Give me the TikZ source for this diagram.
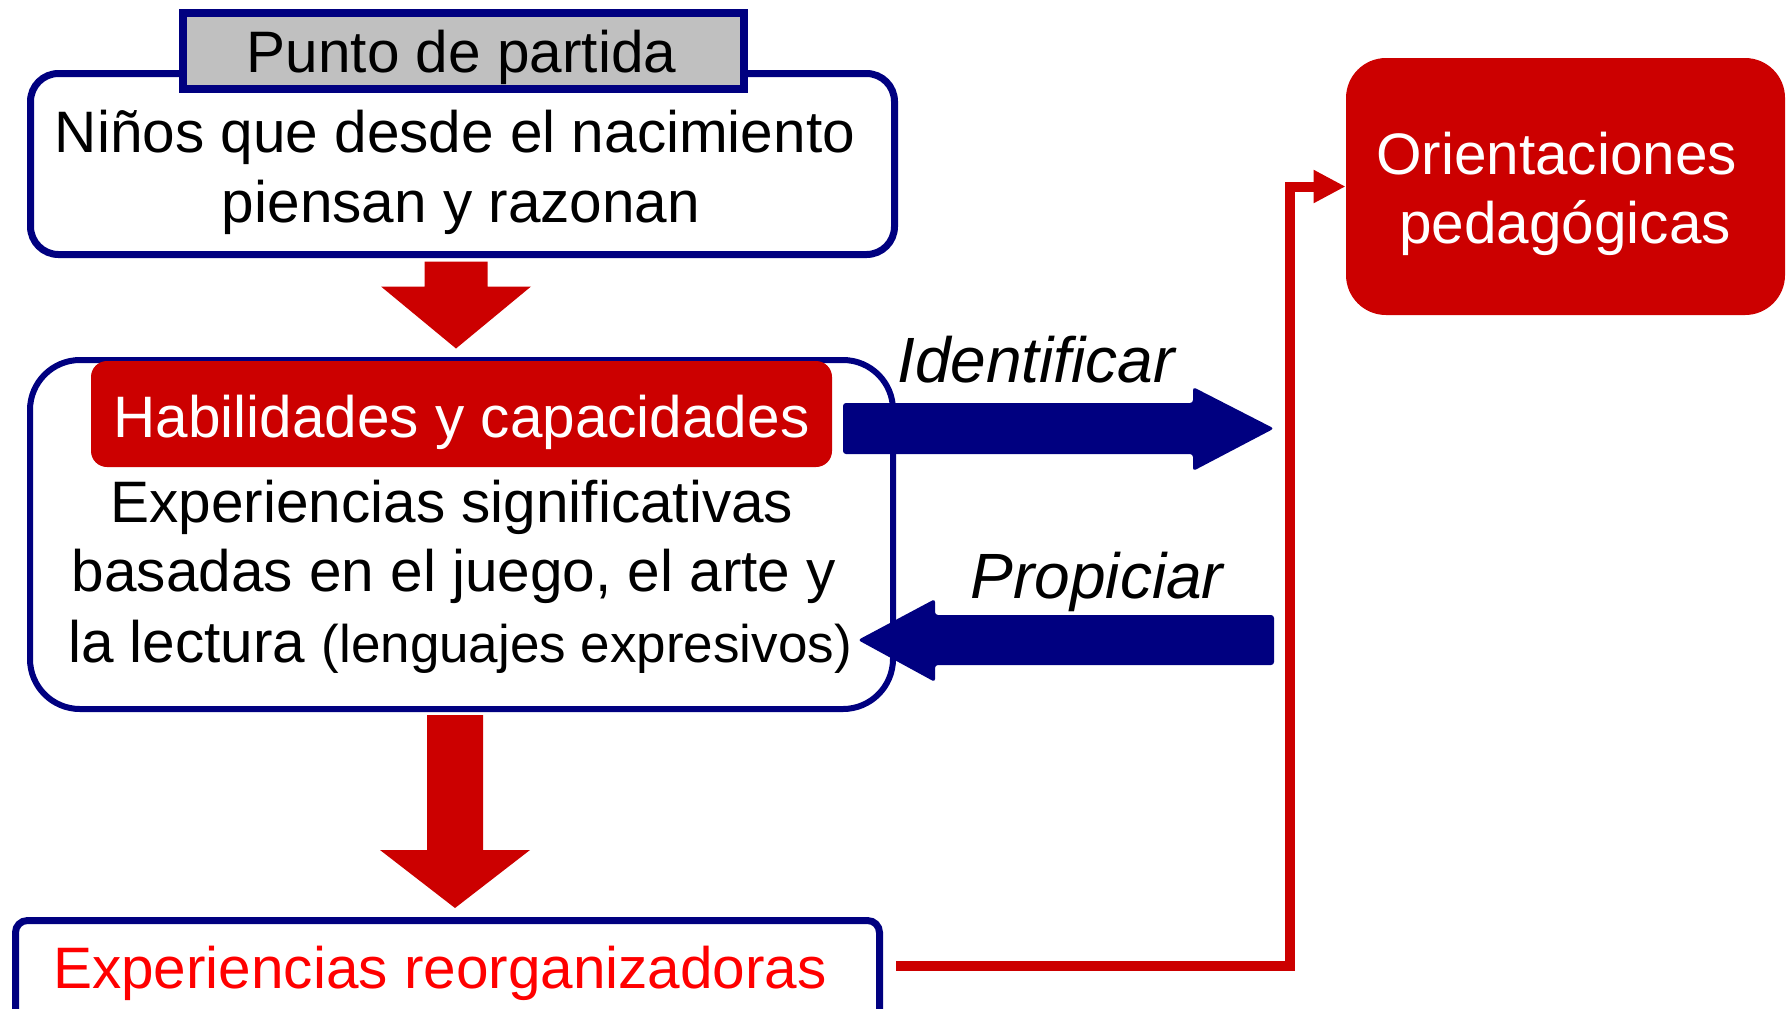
\documentclass[tikz,border=0pt]{standalone}
\usepackage{fontspec}
\setmainfont{Liberation Sans}
\usetikzlibrary{arrows.meta,calc}
\definecolor{navyc}{HTML}{000080}
\definecolor{redc}{HTML}{CC0000}
\definecolor{grayc}{HTML}{C0C0C0}
\definecolor{brightred}{HTML}{FF0000}
\newcommand\smallerfont{\fontsize{26.5}{32}\selectfont}
\begin{document}
\begin{tikzpicture}[x=0.5pt,y=-0.5pt,
  box/.style={draw=navyc, fill=white, inner sep=0pt},
  txt/.style={anchor=base, inner sep=0pt, font=\fontsize{29.25}{35}\selectfont},
  lbl/.style={anchor=base, inner sep=0pt, font=\fontsize{32}{38}\selectfont\itshape},
  blockarrow/.style={fill=navyc, rounded corners=1.5pt},
  redarrow/.style={fill=redc},
  redline/.style={draw=redc, line width=5pt, -{Triangle[length=16pt,width=15.5pt]}}]
\useasboundingbox (0,0) rectangle (1786,1008);
\clip (0,0) rectangle (1786,1008);

% top box
\node[box, minimum width=432pt, minimum height=90.5pt, rounded corners=14pt, line width=3.5pt] (top) at (462.5,164) {};
\node[box, fill=grayc, minimum width=280.5pt, minimum height=38pt, line width=4pt] (punto) at (463.5,51) {};
\node[txt] (tpunto) at (461.5,72) {Punto de partida};
\node[txt] (t1a) at (455,152) {Niños que desde el nacimiento};
\node[txt] (t1b) at (461,222) {piensan y razonan};

% arrow 1
\coordinate (a1) at ($(top.south)+(-6.5,3.5)$);
\fill[redarrow] (a1) ++(-31.5,0) -- ++(63,0) -- ++(0,25) -- ++(43.5,0) -- ++(-75,62) -- ++(-75,-62) -- ++(43.5,0) -- cycle;

% middle box
\node[box, minimum width=431.5pt, minimum height=174.5pt, rounded corners=25pt, line width=3pt] (mid) at (461.5,534.5) {};
\node[fill=redc, inner sep=0pt, minimum width=370.5pt, minimum height=53pt, rounded corners=8pt] (hab) at (461.5,414) {};
\node[txt, white] (thab) at (461.5,437) {Habilidades y capacidades};
\node[txt] (t2a) at (452,522) {Experiencias significativas};
\node[txt] (t2b) at (454,591) {basadas en el juego, el arte y};
\node[txt] (t2c) at (460,662) {la lectura {\smallerfont(lenguajes expresivos)}};

% Identificar arrow
\coordinate (idS) at (843,428.5);
\fill[blockarrow] (idS) ++(0,-25.5) -- ++(350,0) -- ++(0,-16) -- ++(81,41.5) -- ++(-81,42.5) -- ++(0,-17) -- ++(-350,0) -- cycle;
\node[lbl] (lid) at (1036,382) {Identificar};

% Propiciar arrow
\coordinate (prS) at (1274,640);
\fill[blockarrow] (prS) ++(0,-25) -- ++(0,50) -- ++(-339,0) -- ++(0,17) -- ++(-77,-42) -- ++(77,-41) -- ++(0,16) -- cycle;
\node[lbl] (lpr) at (1097,598) {Propiciar};

% arrow 2
\coordinate (a2) at ($(mid.south)+(-6.5,3)$);
\fill[redarrow] (a2) ++(-28,0) -- ++(56,0) -- ++(0,135) -- ++(47,0) -- ++(-75,58) -- ++(-75,-58) -- ++(47,0) -- cycle;

% bottom box
\node[box, minimum width=432pt, minimum height=79.5pt, rounded corners=6pt, line width=3.5pt] (bot) at (447.5,1000) {};
\node[txt, brightred] (tbot) at (440,988) {Experiencias reorganizadoras};

% orientaciones
\node[fill=redc, inner sep=0pt, minimum width=219.5pt, minimum height=128.5pt, rounded corners=20pt] (orient) at (1565.5,186.5) {};
\node[txt, white] (to1) at (1556.5,174) {Orientaciones};
\node[txt, white] (to2) at (1565,243) {pedagógicas};

% red connector
\coordinate (c1) at (896,966);
\draw[redline] (c1) -| ($(orient.west)+(-56,0)$) -- (orient.west);
\end{tikzpicture}
\end{document}
